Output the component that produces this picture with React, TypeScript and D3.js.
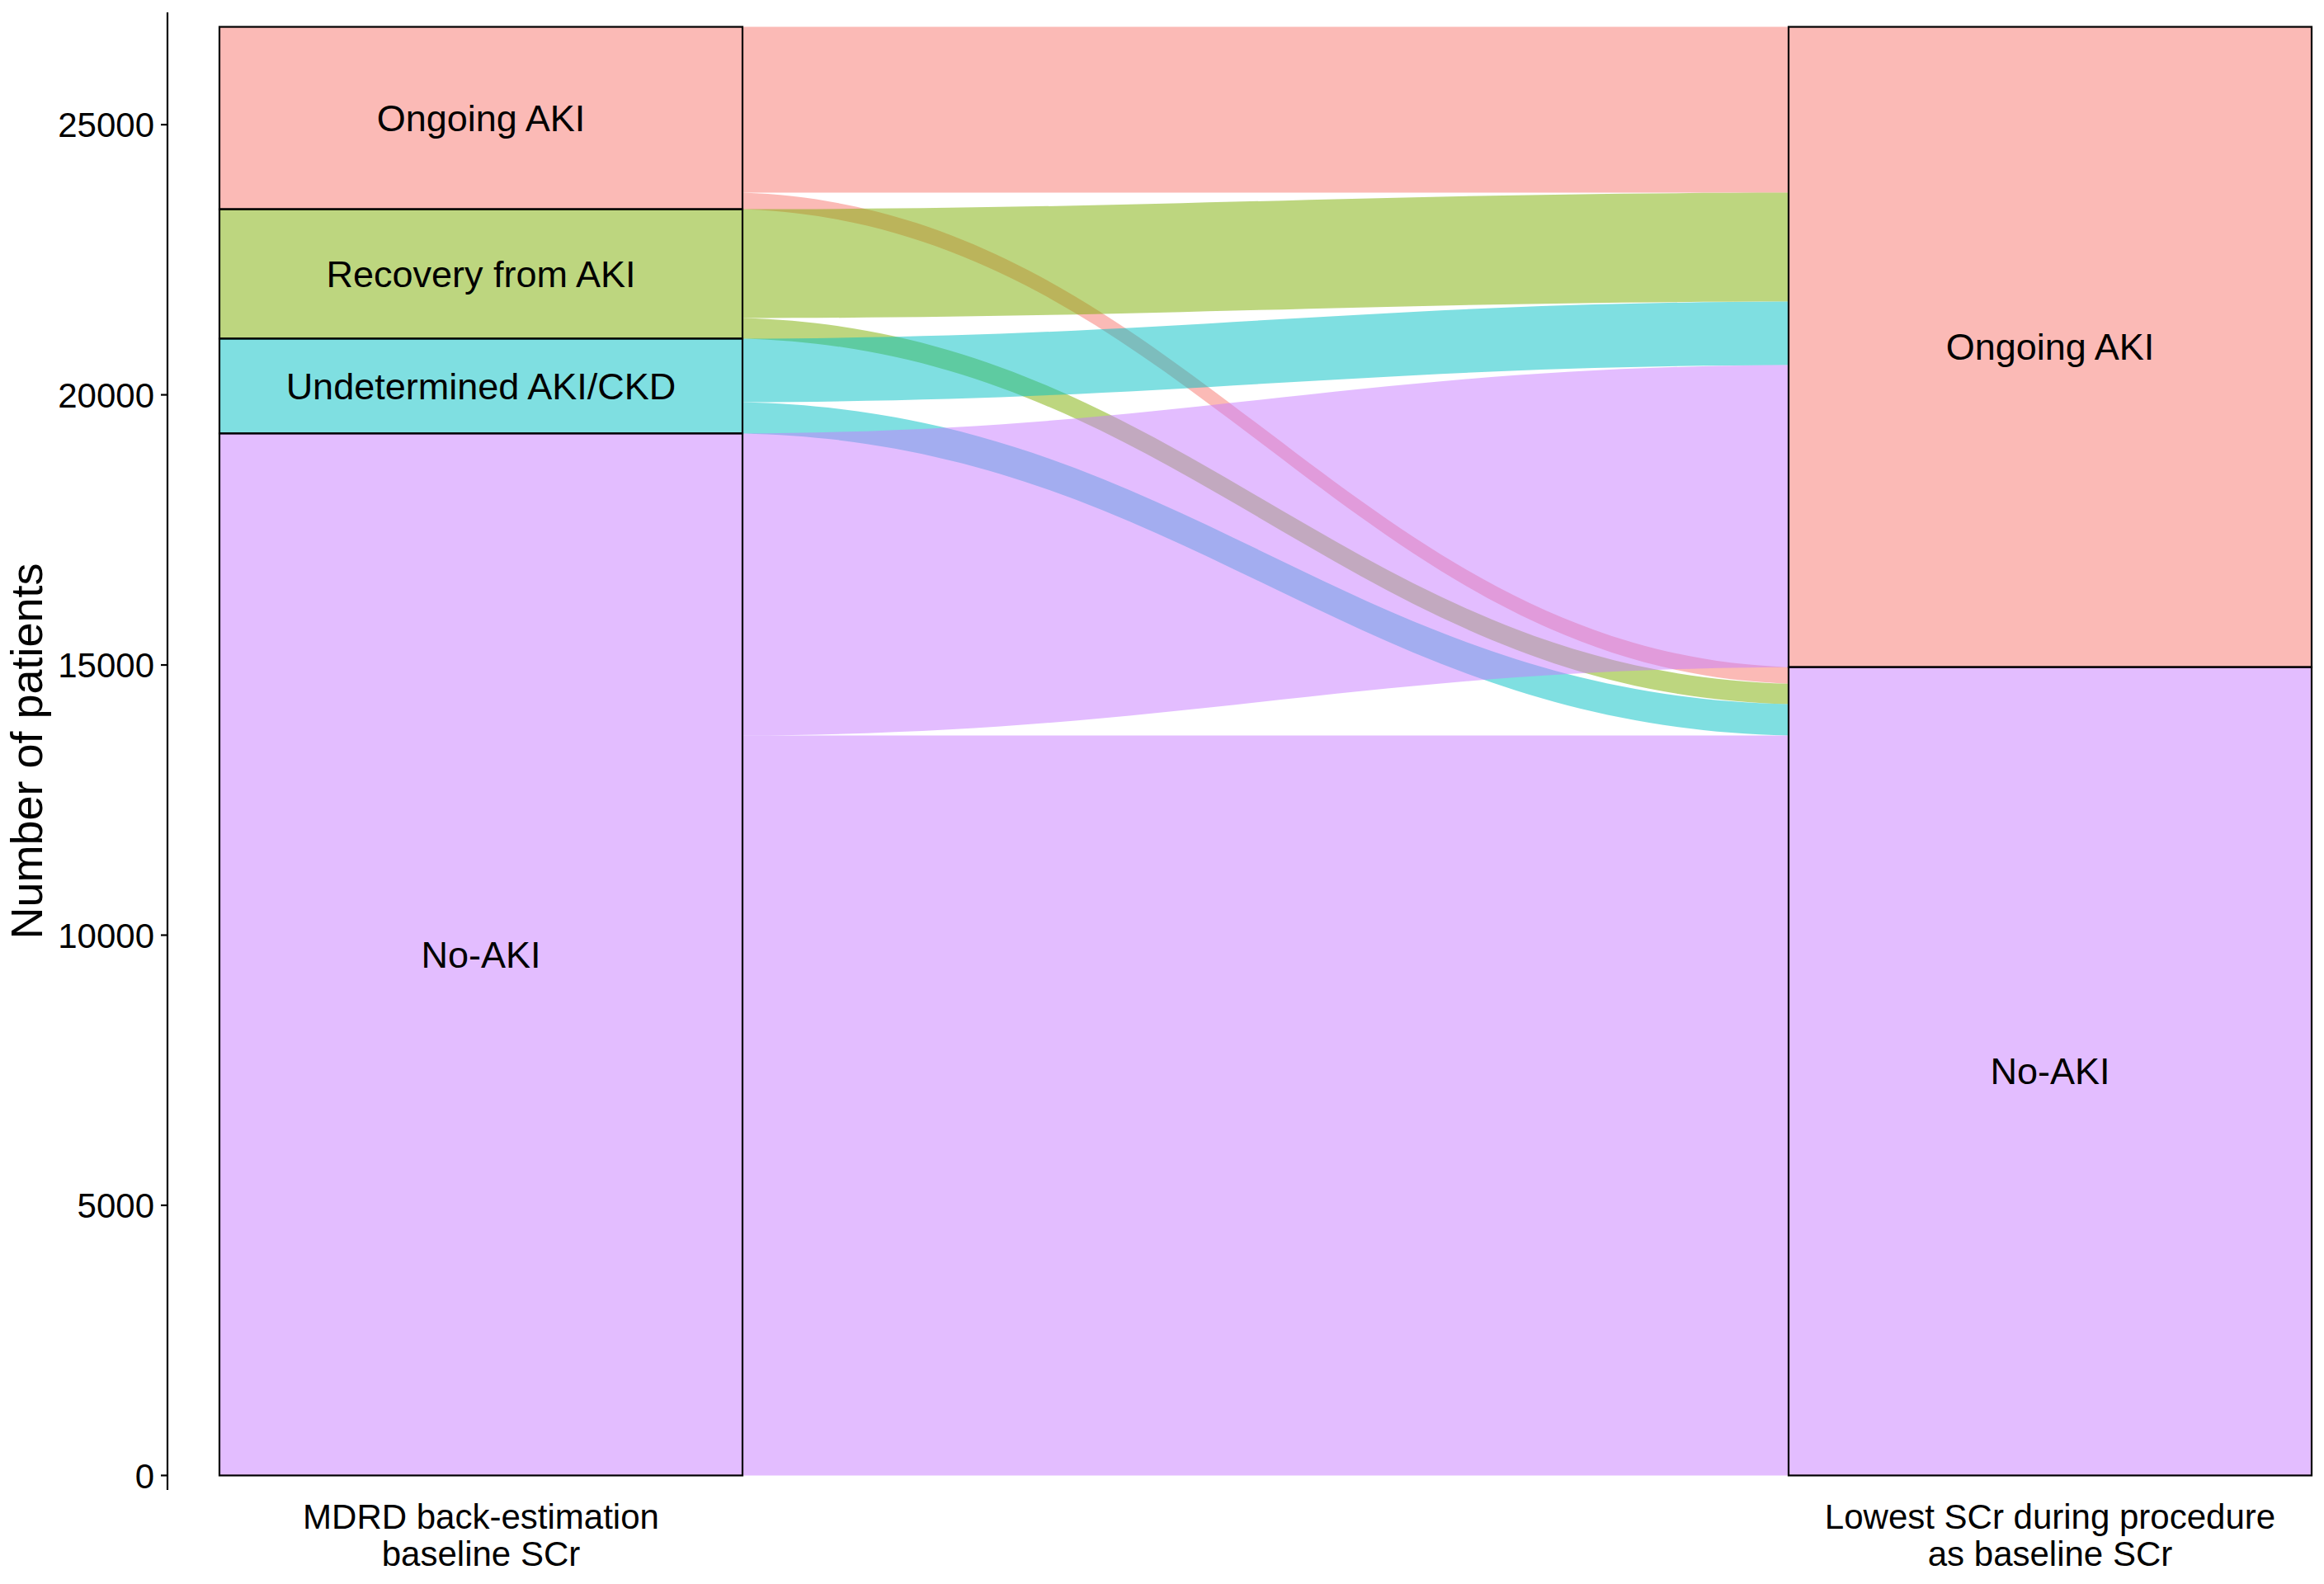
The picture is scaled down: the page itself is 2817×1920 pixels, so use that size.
import React, { useEffect, useRef } from 'react';
import * as d3 from 'd3';

// axis (x) labels, one per stage
const stages = ['MDRD back-estimation\nbaseline SCr', 'Lowest SCr during procedure\nas baseline SCr'];

// left strata (source) and right strata (destination), top to bottom
const leftCategories = ['Ongoing AKI', 'Recovery from AKI', 'Undetermined AKI/CKD', 'No-AKI'];
const rightCategories = ['Ongoing AKI', 'No-AKI'];

// patients moving from each left category to each right category
const toOngoingAki = [3070, 2015, 1175, 5590];
const toNoAki = [305, 380, 580, 13695];

const yTicks = [0, 5000, 10000, 15000, 20000, 25000];

const categoryColors: Record<string, string> = {
  'Ongoing AKI': '#F8766D',
  'Recovery from AKI': '#7CAE00',
  'Undetermined AKI/CKD': '#00BFC4',
  'No-AKI': '#C77CFF',
};

const W = 2817;
const H = 1920;
const FONT = '"Liberation Sans", Arial, Helvetica, sans-serif';

const App: React.FC = () => {
  const svgRef = useRef<SVGSVGElement>(null);

  useEffect(() => {
    if (!svgRef.current) return;
    const svg = d3.select(svgRef.current);
    svg.selectAll('*').remove();

    const flows = [toOngoingAki, toNoAki]; // flows[j][i]
    const leftTotals = leftCategories.map((_, i) => flows.reduce((s, f) => s + f[i], 0));
    const rightTotals = flows.map(f => d3.sum(f));
    const total = d3.sum(leftTotals);
    const pad = total * 0.01;

    const y = d3.scaleLinear().domain([-pad, total + pad]).range([1806, 15]);
    const x = d3.scalePoint<string>().domain(stages).range([583, 2485]);
    const halfW = 317;

    // stratum tops (in data units)
    const leftTop = leftTotals.map((_, i) => total - d3.sum(leftTotals.slice(0, i)));
    const rightTop = rightTotals.map((_, j) => total - d3.sum(rightTotals.slice(0, j)));

    const x0 = (x(stages[0]) as number) + halfW;
    const x1 = (x(stages[1]) as number) - halfW;
    // control-point fractions, roughly like ggalluvial's xspline
    const a = 0.42;
    const b = 0.03;

    const ribbon = (t0: number, b0: number, t1: number, b1: number) => {
      const dx = x1 - x0;
      const p = d3.path();
      p.moveTo(x0, t0);
      p.bezierCurveTo(x0 + a * dx, t0 + b * (t1 - t0), x1 - a * dx, t1 - b * (t1 - t0), x1, t1);
      p.lineTo(x1, b1);
      p.bezierCurveTo(x1 - a * dx, b1 - b * (b1 - b0), x0 + a * dx, b0 + b * (b1 - b0), x0, b0);
      p.closePath();
      return p.toString();
    };

    svg.append('rect').attr('width', W).attr('height', H).attr('fill', '#fff');

    // flows, drawn by source order
    const gFlows = svg.append('g');
    leftCategories.forEach((src, i) => {
      rightCategories.forEach((dst, j) => {
        const v = flows[j][i];
        const lTop = leftTop[i] - d3.sum(flows.slice(0, j).map(f => f[i]));
        const rTop = rightTop[j] - d3.sum(flows[j].slice(0, i));
        gFlows.append('path')
          .attr('d', ribbon(y(lTop), y(lTop - v), y(rTop), y(rTop - v)))
          .attr('fill', categoryColors[src])
          .attr('fill-opacity', 0.5)
          .attr('stroke', 'none')
          .attr('data-flow', `${src} -> ${dst}`);
      });
    });

    // strata
    const strata = [
      ...leftCategories.map((c, i) => ({ stage: stages[0], cat: c, top: leftTop[i], size: leftTotals[i] })),
      ...rightCategories.map((c, j) => ({ stage: stages[1], cat: c, top: rightTop[j], size: rightTotals[j] })),
    ];
    const gStrata = svg.append('g');
    gStrata.selectAll('rect')
      .data(strata)
      .enter()
      .append('rect')
      .attr('x', d => (x(d.stage) as number) - halfW)
      .attr('y', d => y(d.top))
      .attr('width', halfW * 2)
      .attr('height', d => y(d.top - d.size) - y(d.top))
      .attr('fill', d => categoryColors[d.cat])
      .attr('fill-opacity', 0.5)
      .attr('stroke', '#000')
      .attr('stroke-width', 2.2);

    gStrata.selectAll('text')
      .data(strata)
      .enter()
      .append('text')
      .attr('x', d => x(d.stage) as number)
      .attr('y', d => y(d.top - d.size / 2))
      .attr('dy', '0.35em')
      .attr('text-anchor', 'middle')
      .style('font-family', FONT)
      .style('font-size', '45px')
      .attr('fill', '#000')
      .text(d => d.cat);

    // y axis
    const gy = svg.append('g').attr('transform', 'translate(203,0)');
    gy.append('line')
      .attr('y1', y.range()[1]).attr('y2', y.range()[0])
      .attr('stroke', '#000').attr('stroke-width', 2.2);
    const ticks = gy.selectAll('g.tick').data(yTicks).enter().append('g')
      .attr('transform', d => `translate(0,${y(d)})`);
    ticks.append('line').attr('x1', -8).attr('x2', 0).attr('stroke', '#000').attr('stroke-width', 2.2);
    ticks.append('text')
      .attr('x', -16)
      .attr('dy', '0.36em')
      .attr('text-anchor', 'end')
      .style('font-family', FONT)
      .style('font-size', '42px')
      .attr('fill', '#000')
      .text(d => String(d));

    svg.append('text')
      .attr('transform', `translate(51,${(y.range()[0] + y.range()[1]) / 2}) rotate(-90)`)
      .attr('text-anchor', 'middle')
      .style('font-family', FONT)
      .style('font-size', '54px')
      .attr('fill', '#000')
      .text('Number of patients');

    // x labels
    stages.forEach(s => {
      const t = svg.append('text')
        .attr('text-anchor', 'middle')
        .style('font-family', FONT)
        .style('font-size', '42px')
        .attr('fill', '#000');
      s.split('\n').forEach((line, k) => {
        t.append('tspan')
          .attr('x', x(s) as number)
          .attr('y', 1853 + k * 45)
          .text(line);
      });
    });
  }, []);

  return (
    <svg
      ref={svgRef}
      width={W}
      height={H}
      style={{ position: 'absolute', left: 0, top: 0, display: 'block' }}
    />
  );
};

export default App;
